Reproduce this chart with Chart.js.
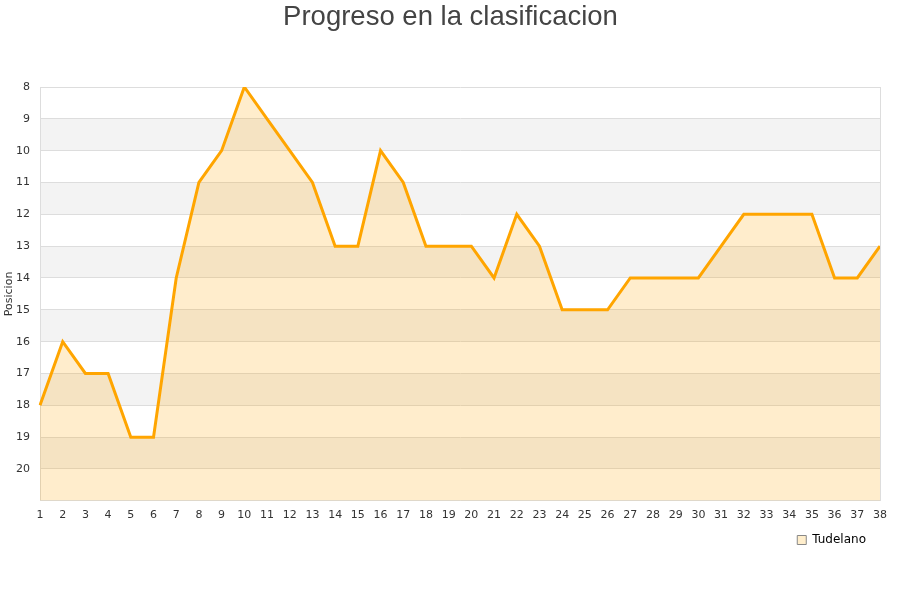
<!DOCTYPE html>
<html>
<head>
<meta charset="utf-8">
<script src="https://cdn.jsdelivr.net/npm/chart.js@4"></script>
<style>
html,body{margin:0;padding:0;background:#fff;}
#wrap{width:900px;height:600px;position:relative;}
</style>
</head>
<body>
<div id="wrap"><canvas id="c" width="900" height="600"></canvas></div>
<script>
const rounds = ['1','2','3','4','5','6','7','8','9','10','11','12','13','14','15','16','17','18','19','20','21','22','23','24','25','26','27','28','29','30','31','32','33','34','35','36','37','38'];
const positions = [18,16,17,17,19,19,14,11,10,8,9,10,11,13,13,10,11,13,13,13,14,12,13,15,15,15,14,14,14,14,13,12,12,12,12,14,14,13];
const teamName = 'Tudelano';
const chartTitle = 'Progreso en la clasificacion';
const yTitle = 'Posicion';

const bandsPlugin = {
  id: 'bands',
  afterLayout(chart) {
    const t = chart.titleBlock;
    if (t) { t.right += 18; t.width += 18; }
    const l = chart.legend;
    if (l) { l.left -= 2; l.right -= 2; }
  },
  beforeDraw(chart) {
    const {ctx, chartArea: a, scales: {y}} = chart;
    ctx.save();
    ctx.fillStyle = '#f3f3f3';
    for (let v = 9; v < 21; v += 2) {
      const p1 = y.getPixelForValue(v), p2 = y.getPixelForValue(v + 1);
      ctx.fillRect(a.left, Math.min(p1, p2), a.right - a.left, Math.abs(p2 - p1));
    }
    ctx.restore();
  },
  afterDraw(chart) {
    const {ctx, chartArea: a} = chart;
    ctx.save();
    ctx.strokeStyle = '#dddddd';
    ctx.lineWidth = 1;
    ctx.beginPath();
    ctx.moveTo(Math.round(a.right) + 0.5, a.top);
    ctx.lineTo(Math.round(a.right) + 0.5, a.bottom);
    ctx.stroke();
    ctx.restore();
  }
};

new Chart(document.getElementById('c'), {
  type: 'line',
  data: {
    labels: rounds,
    datasets: [{
      label: teamName,
      data: positions,
      borderColor: '#ffa500',
      backgroundColor: 'rgba(255,165,0,0.2)',
      borderWidth: 3,
      pointRadius: 0,
      tension: 0,
      fill: {value: 21}
    }]
  },
  options: {
    responsive: false,
    animation: false,
    layout: {padding: {left: 3, right: 20, top: 0, bottom: 44}},
    plugins: {
      title: {
        display: true,
        text: chartTitle,
        color: '#444444',
        font: {family: 'Liberation Sans', size: 27.5, weight: 'normal'},
        padding: {top: 1, bottom: 53}
      },
      legend: {
        position: 'bottom',
        align: 'end',
        labels: {
          color: '#000',
          font: {family: 'DejaVu Sans', size: 12},
          boxWidth: 9,
          boxHeight: 9,
          padding: 12,
          generateLabels: (chart) => [{
            text: teamName,
            fillStyle: '#ffeecc',
            strokeStyle: '#888888',
            lineWidth: 1,
            fontColor: '#000',
            datasetIndex: 0,
            hidden: false
          }]
        }
      },
      tooltip: {enabled: false}
    },
    scales: {
      x: {
        offset: false,
        grid: {display: false},
        border: {color: '#dddddd'},
        ticks: {color: '#333', font: {family: 'DejaVu Sans', size: 11}, maxRotation: 0, autoSkip: false, padding: 0}
      },
      y: {
        reverse: true,
        min: 8,
        max: 21,
        afterFit: (s) => { s.width = 37; },
        title: {display: true, text: yTitle, color: '#333', font: {family: 'DejaVu Sans', size: 11}, padding: 0},
        grid: {color: '#dddddd', drawTicks: false},
        border: {color: '#dddddd'},
        ticks: {
          stepSize: 1,
          color: '#333',
          font: {family: 'DejaVu Sans', size: 11},
          padding: 10,
          callback: v => (v >= 21 ? '' : v)
        }
      }
    }
  },
  plugins: [bandsPlugin]
});
</script>
</body>
</html>
